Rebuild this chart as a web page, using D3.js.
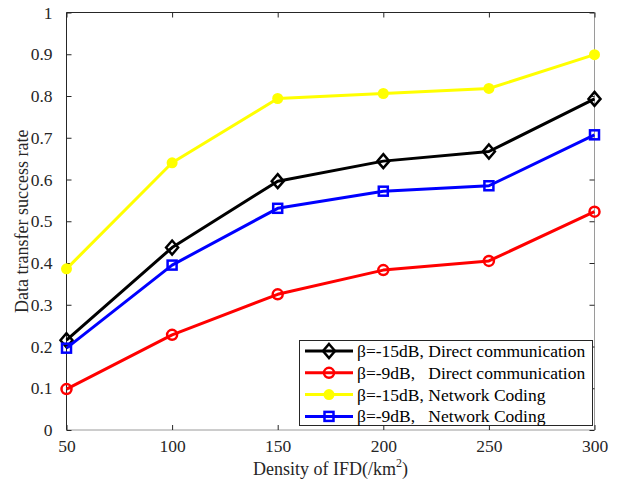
<!DOCTYPE html>
<html>
<head>
<meta charset="utf-8">
<script src="https://cdn.jsdelivr.net/npm/d3@7"></script>
<style>
  body { margin: 0; background: #fff; }
  svg { font-family: "Liberation Serif", "Times New Roman", serif; }
</style>
</head>
<body>
<div id="chart"></div>
<script>
// data
var densities = [50, 100, 150, 200, 250, 300];
var directM15 = [0.215, 0.437, 0.596, 0.644, 0.667, 0.793];
var directM9 = [0.098, 0.228, 0.325, 0.383, 0.405, 0.523];
var codingM15 = [0.386, 0.640, 0.794, 0.806, 0.818, 0.899];
var codingM9 = [0.196, 0.395, 0.531, 0.572, 0.585, 0.707];
var yTicks = [0, 0.1, 0.2, 0.3, 0.4, 0.5, 0.6, 0.7, 0.8, 0.9, 1];
var legendNames = [
  "\u03B2=-15dB, Direct communication",
  "\u03B2=-9dB,   Direct communication",
  "\u03B2=-15dB, Network Coding",
  "\u03B2=-9dB,   Network Coding"
];

var width = 618;
var height = 486;
// plot box (avoid the name "top", it is window.top)
var plotLeft = 66.5, plotRight = 594.5, plotTop = 12.5, plotBottom = 430;
var textColor = "#262626";

var series = [
  { name: legendNames[0], values: directM15, color: "#000000", marker: "diamond" },
  { name: legendNames[1], values: directM9, color: "#ff0000", marker: "circle" },
  { name: legendNames[2], values: codingM15, color: "#ffff00", marker: "dot" },
  { name: legendNames[3], values: codingM9, color: "#0000ff", marker: "square" }
];

var svg = d3.select("#chart").append("svg")
  .attr("width", width)
  .attr("height", height);

var x = d3.scaleLinear().domain([50, 300]).range([plotLeft, plotRight]);
var y = d3.scaleLinear().domain([0, 1]).range([plotBottom, plotTop]);

// frame: top and left dark, bottom and right light like the original
svg.append("line").attr("x1", plotLeft).attr("x2", plotRight).attr("y1", plotTop).attr("y2", plotTop)
  .attr("stroke", textColor);
svg.append("line").attr("x1", plotLeft).attr("x2", plotLeft).attr("y1", plotTop).attr("y2", plotBottom)
  .attr("stroke", textColor);
svg.append("line").attr("x1", plotLeft).attr("x2", plotRight).attr("y1", plotBottom).attr("y2", plotBottom)
  .attr("stroke", "#9a9a9a");
svg.append("line").attr("x1", plotRight).attr("x2", plotRight).attr("y1", plotTop).attr("y2", plotBottom)
  .attr("stroke", "#9a9a9a");

// axes with inward ticks
var xAxis = svg.append("g")
  .attr("transform", "translate(0," + plotBottom + ")")
  .call(d3.axisBottom(x).tickValues(densities).tickSizeInner(-5).tickSizeOuter(0).tickPadding(10));
var xTop = svg.append("g")
  .attr("transform", "translate(0," + plotTop + ")")
  .call(d3.axisTop(x).tickValues(densities).tickSizeInner(-5).tickSizeOuter(0).tickFormat(""));
var yAxis = svg.append("g")
  .attr("transform", "translate(" + plotLeft + ",0)")
  .call(d3.axisLeft(y).tickValues(yTicks).tickSizeInner(-5).tickSizeOuter(0).tickPadding(14)
    .tickFormat(function(d) { return d === 0 || d === 1 ? d3.format("d")(d) : d3.format(".1f")(d); }));
var yRight = svg.append("g")
  .attr("transform", "translate(" + plotRight + ",0)")
  .call(d3.axisRight(y).tickValues(yTicks).tickSizeInner(-5).tickSizeOuter(0).tickFormat(""));

[xAxis, xTop, yAxis, yRight].forEach(function(g) {
  g.select(".domain").remove();
  g.selectAll(".tick line").attr("stroke", textColor);
  g.selectAll("text")
    .attr("fill", textColor)
    .style("font-size", "17.5px")
    .style("font-family", "Liberation Serif, serif");
});

// axis titles
svg.append("text")
  .attr("x", (plotLeft + plotRight) / 2)
  .attr("y", 475)
  .attr("text-anchor", "middle")
  .attr("fill", textColor)
  .style("font-size", "18px")
  .html("Density of IFD(/km<tspan dy='-8' font-size='12px'>2</tspan><tspan dy='8'>)</tspan>");

svg.append("text")
  .attr("transform", "translate(28," + ((plotTop + plotBottom) / 2) + ") rotate(-90)")
  .attr("text-anchor", "middle")
  .attr("fill", textColor)
  .style("font-size", "18px")
  .text("Data transfer success rate");

function drawMarker(g, type, color, cx, cy) {
  if (type === "diamond") {
    g.append("path")
      .attr("d", "M" + cx + "," + (cy - 7) + "L" + (cx + 6) + "," + cy + "L" + cx + "," + (cy + 7) + "L" + (cx - 6) + "," + cy + "Z")
      .attr("fill", "none").attr("stroke", color).attr("stroke-width", 2.5);
  } else if (type === "circle") {
    g.append("circle").attr("cx", cx).attr("cy", cy).attr("r", 5)
      .attr("fill", "none").attr("stroke", color).attr("stroke-width", 2.5);
  } else if (type === "dot") {
    g.append("circle").attr("cx", cx).attr("cy", cy).attr("r", 5.5)
      .attr("fill", color).attr("stroke", "none");
  } else {
    g.append("rect").attr("x", cx - 4.5).attr("y", cy - 4.5).attr("width", 9).attr("height", 9)
      .attr("fill", "none").attr("stroke", color).attr("stroke-width", 2.5);
  }
}

var line = d3.line()
  .x(function(d, i) { return x(densities[i]); })
  .y(function(d) { return y(d); });

// draw in the original stacking order: yellow, black, blue, red
[2, 0, 3, 1].forEach(function(k) {
  var s = series[k];
  var g = svg.append("g");
  g.append("path")
    .datum(s.values)
    .attr("d", line)
    .attr("fill", "none")
    .attr("stroke", s.color)
    .attr("stroke-width", 3)
    .attr("stroke-linejoin", "round");
  s.values.forEach(function(v, i) {
    drawMarker(g, s.marker, s.color, x(densities[i]), y(v));
  });
});

// legend
var lg = svg.append("g");
lg.append("rect")
  .attr("x", 299.5).attr("y", 340.5).attr("width", 293).attr("height", 85)
  .attr("fill", "#fff").attr("stroke", textColor).attr("stroke-width", 1);

series.forEach(function(s, i) {
  var ry = 351 + i * 21.8;
  lg.append("line").attr("x1", 305).attr("x2", 353).attr("y1", ry).attr("y2", ry)
    .attr("stroke", s.color).attr("stroke-width", 3);
  drawMarker(lg, s.marker, s.color, 329, ry);
  lg.append("text")
    .attr("x", 357).attr("y", ry + 6)
    .attr("fill", "#000")
    .style("font-size", "17.5px")
    .style("white-space", "pre")
    .text(s.name);
});
</script>
</body>
</html>
